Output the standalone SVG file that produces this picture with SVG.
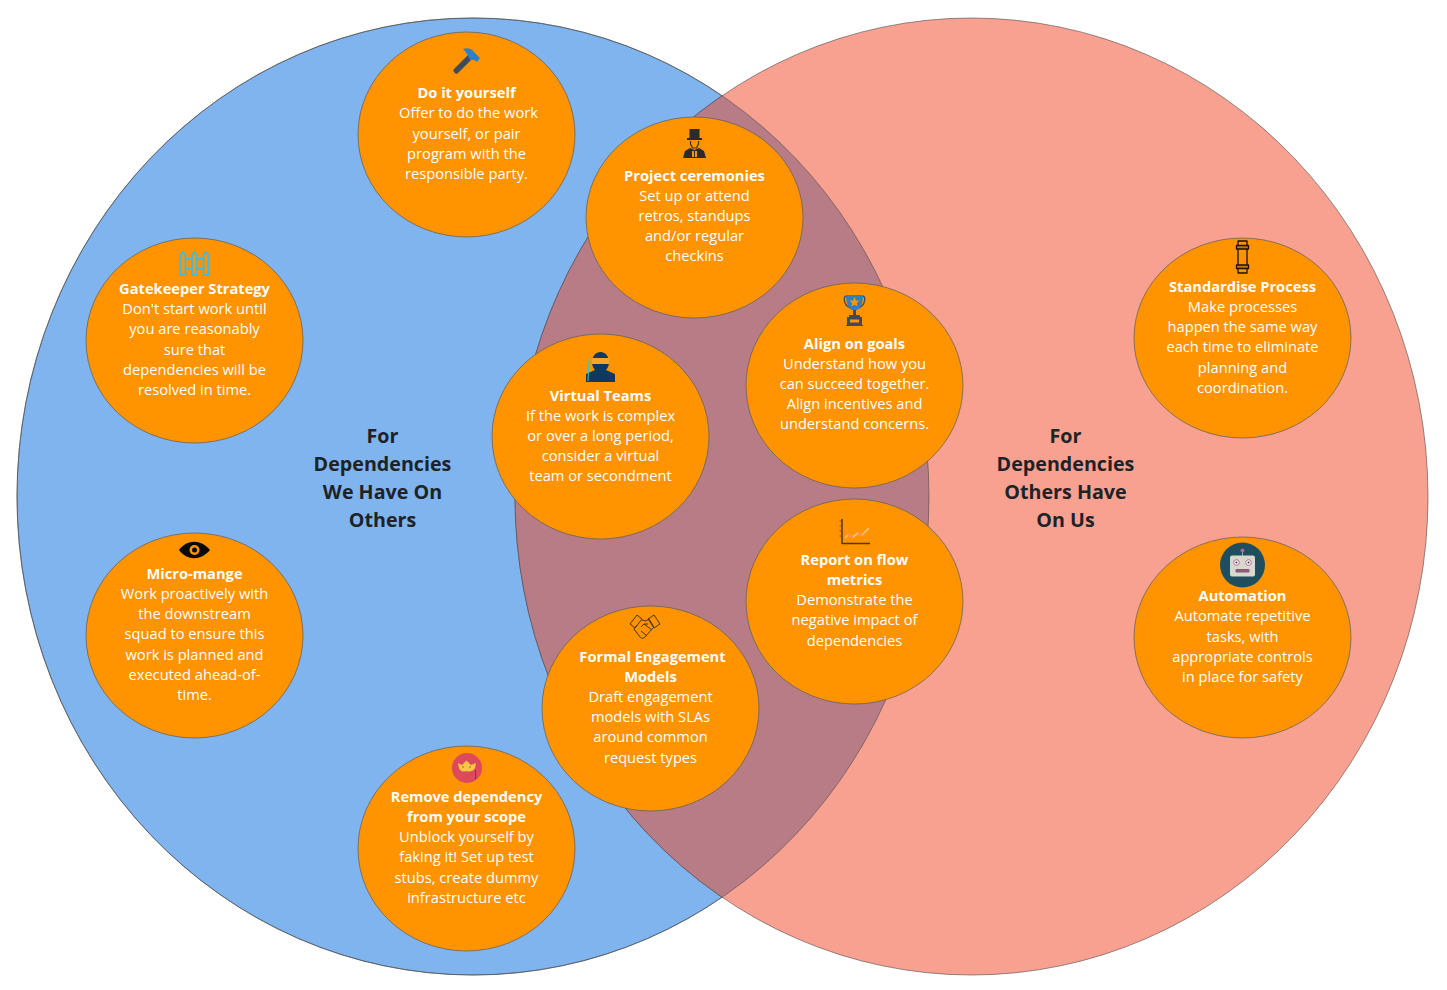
<svg xmlns="http://www.w3.org/2000/svg" width="1447" height="990" viewBox="0 0 1447 990">
<style>
text{font-family:"Open Sans","Noto Sans","Liberation Sans",sans-serif;text-anchor:middle}
.n{fill:#ff9300;stroke:#5a5a5a;stroke-width:.7}
.b{font-size:14.67px;fill:#fff}
.h{font-size:14.67px;fill:#fff;font-weight:700}
.t{font-size:19.7px;fill:#1e2328;font-weight:700}
.v{stroke:#4a4a4a;stroke-width:.6}
.i{fill:none;stroke-linejoin:round}
</style>
<defs><clipPath id="bc"><ellipse cx="473" cy="496.5" rx="456" ry="478.5"/></clipPath></defs>
<rect width="1447" height="990" fill="#fff"/>
<g id="venn">
<ellipse class="v" cx="473" cy="496.5" rx="456" ry="478.5" fill="#80b4ef"/>
<ellipse class="v" cx="971.5" cy="496.5" rx="456.5" ry="478.5" fill="#f9a190"/>
<ellipse class="v" cx="971.5" cy="496.5" rx="456.5" ry="478.5" fill="#b87c86" clip-path="url(#bc)"/>
<ellipse class="v" cx="473" cy="496.5" rx="456" ry="478.5" fill="none"/>
</g>
<g id="connectors"></g>
<g id="title-left"><text class="t" x="382.500" y="443">For</text><text class="t" x="382.500" y="471">Dependencies</text><text class="t" x="382.500" y="499">We Have On</text><text class="t" x="382.500" y="527">Others</text></g>
<g id="title-right"><text class="t" x="1065.500" y="443">For</text><text class="t" x="1065.500" y="471">Dependencies</text><text class="t" x="1065.500" y="499">Others Have</text><text class="t" x="1065.500" y="527">On Us</text></g>

<g id="do-it-yourself">
<ellipse class="n" cx="466.500" cy="134.500" rx="108.500" ry="102.500"/>
<path d="M454 69l14-14 4 4-14 14a2 2 0 0 1-3 0l-1-1a2 2 0 0 1 0-3z" fill="#3f4a5a"/>
<path d="M463 49c5-2 9 0 11 3l6 6-3 4-3-2-4 0-2-4c-1-3-3-5-5-7z" fill="#2f80c2"/>
<text class="h" x="466.500" y="98">Do it yourself</text><text class="b" x="468.500" y="118">Offer to do the work</text><text class="b" x="466.500" y="139">yourself, or pair</text><text class="b" x="466.500" y="159">program with the</text><text class="b" x="466.500" y="179">responsible party.</text>
</g>

<g id="project-ceremonies">
<ellipse class="n" cx="694.500" cy="217.500" rx="108.500" ry="100.500"/>
<path d="M689.500 129h10v9h2.500v2h-15v-2h2.500z" fill="#2b2b2b"/>
<path d="M690.500 141v3l2 4h4l2-4v-3" class="i" stroke="#3a3020" stroke-width="1.200"/>
<path d="M683 158l2-7 5-3 4.500 2 4.500-2 5 3 2 7z" fill="#2b2b2b"/>
<path d="M692 151h5v6h-5z" fill="#ff9300"/><path d="M694.500 151v6" stroke="#2b2b2b" stroke-width="1"/>
<text class="h" x="694.500" y="181">Project ceremonies</text><text class="b" x="694.500" y="201">Set up or attend</text><text class="b" x="694.500" y="221">retros, standups</text><text class="b" x="694.500" y="241">and/or regular</text><text class="b" x="694.500" y="261">checkins</text>
</g>

<g id="gatekeeper-strategy">
<ellipse class="n" cx="194.500" cy="340.500" rx="108.500" ry="102.500"/>
<g class="i" stroke="#3cbce8" stroke-width="1.800"><path d="M180.500 275v-20l2.500-3 2.500 3v20zM192 275v-20l2.500-3 2.500 3v20zM203.500 275v-20l2.500-3 2.500 3v20z"/><path d="M185.500 259h6.500M197 259h6.500M185.500 269h6.500M197 269h6.500"/></g>
<text class="h" x="194.500" y="294">Gatekeeper Strategy</text><text class="b" x="194.500" y="314">Don't start work until</text><text class="b" x="194.500" y="334">you are reasonably</text><text class="b" x="194.500" y="355">sure that</text><text class="b" x="194.500" y="375">dependencies will be</text><text class="b" x="194.500" y="395">resolved in time.</text>
</g>

<g id="micro-mange">
<ellipse class="n" cx="194.500" cy="635.500" rx="108.500" ry="102.500"/>
<path d="M179 550c8-11 22-11 31 0-9 11-23 11-31 0z" fill="#0a0a0a"/>
<circle cx="194.500" cy="550" r="5" fill="#ff9300"/><circle cx="194.500" cy="550" r="2.500" fill="#0a0a0a"/>
<text class="h" x="194.500" y="579">Micro-mange</text><text class="b" x="194.500" y="599">Work proactively with</text><text class="b" x="194.500" y="619">the downstream</text><text class="b" x="194.500" y="639">squad to ensure this</text><text class="b" x="194.500" y="660">work is planned and</text><text class="b" x="194.500" y="680">executed ahead-of-</text><text class="b" x="194.500" y="700">time.</text>
</g>

<g id="virtual-teams">
<ellipse class="n" cx="600.500" cy="436.500" rx="108.500" ry="102.500"/>
<path d="M586 382v-8l9-4c-2-2-3-5-3-8 0-6 4-10 8.500-10s8.500 4 8.500 10c0 3-1 6-3 8l9 4v8z" fill="#0e3a5f"/>
<rect x="592" y="358" width="17" height="6" fill="#f6a623"/>
<path d="M591 360h-2l-1 21" class="i" stroke="#3fc1c9" stroke-width="1"/>
<text class="h" x="600.500" y="401">Virtual Teams</text><text class="b" x="600.500" y="421">If the work is complex</text><text class="b" x="600.500" y="441">or over a long period,</text><text class="b" x="600.500" y="461">consider a virtual</text><text class="b" x="600.500" y="481">team or secondment</text>
</g>

<g id="align-on-goals">
<ellipse class="n" cx="854.500" cy="385.500" rx="108.500" ry="102.500"/>
<path d="M847 296c-3 0-3 2-2.500 5 .5 3 3 6 6.500 7M862 296c3 0 3 2 2.500 5-.5 3-3 6-6.500 7" class="i" stroke="#3f4a5a" stroke-width="1.400"/>
<path d="M846 295h17c0 7-2 13-6 15h-5c-4-2-6-8-6-15z" fill="#2f80c2"/>
<path d="M854.500 297l1.500 3.500 3.500.3-2.700 2.300.9 3.500-3.200-1.900-3.200 1.900.9-3.500-2.700-2.300 3.500-.3z" fill="#ff9300"/>
<path d="M853 310h3v5h-3zM849 315h11v2h-11zM847 317h15v8h-15zM846 325h17v1h-17z" fill="#3f4a5a"/>
<rect x="850" y="319.500" width="9" height="3" fill="#ff9300"/>
<text class="h" x="854.500" y="349">Align on goals</text><text class="b" x="854.500" y="369">Understand how you</text><text class="b" x="854.500" y="389">can succeed together.</text><text class="b" x="854.500" y="409">Align incentives and</text><text class="b" x="854.500" y="429">understand concerns.</text>
</g>

<g id="report-on-flow-metrics">
<ellipse class="n" cx="854.500" cy="601.500" rx="108.500" ry="102.500"/>
<path d="M842 519v24.500h28" class="i" stroke="#4a3a20" stroke-width="1.500"/>
<path d="M839.500 521h2M839.500 526h2M839.500 531h2M839.500 536h2" stroke="#4a3a20" stroke-width=".7" fill="none"/>
<path d="M845 538l3-3 5 2 5-4 4 2 7-7" class="i" stroke="#ffc27a" stroke-width="1.700"/>
<path d="M848 535l5 2M858 533l4 2" class="i" stroke="#ee7f6a" stroke-width="1.300"/>
<text class="h" x="854.500" y="565">Report on flow</text><text class="h" x="854.500" y="585">metrics</text><text class="b" x="854.500" y="605">Demonstrate the</text><text class="b" x="854.500" y="625">negative impact of</text><text class="b" x="854.500" y="646">dependencies</text>
</g>

<g id="formal-engagement-models">
<ellipse class="n" cx="650.500" cy="708.500" rx="108.500" ry="102.500"/>
<g class="i" stroke="#4a3214" stroke-width="1"><path d="M630 624l7-9 5 4-7 9zM648 619l6-4 6 9-6 4z"/><path d="M642 620l4 1 3-2 5 8-2 2-7 8c-2 2-4 1-5 0l-6-8 3-4"/><path d="M641 627l3-3 4 0M644 624l8 6M641 631l6 5"/></g>
<text class="h" x="652.500" y="662">Formal Engagement</text><text class="h" x="650.500" y="682">Models</text><text class="b" x="650.500" y="702">Draft engagement</text><text class="b" x="650.500" y="722">models with SLAs</text><text class="b" x="650.500" y="742">around common</text><text class="b" x="650.500" y="763">request types</text>
</g>

<g id="remove-dependency">
<ellipse class="n" cx="466.500" cy="848.500" rx="108.500" ry="102.500"/>
<circle cx="467" cy="768" r="15" fill="#dd4a5c"/>
<path d="M458 763l4 2 4.500-4.500 4.500 4.500 5-2-1 5c-2 4-6 4-8.500 3-3 1-6 1-7.500-3z" fill="#f3c845"/>
<path d="M462 767h2M469 767h2" stroke="#dd4a5c" stroke-width="1.200" fill="none"/>
<path d="M475.500 770v9" stroke="#8a3540" stroke-width="1" fill="none"/>
<text class="h" x="466.500" y="802">Remove dependency</text><text class="h" x="466.500" y="822">from your scope</text><text class="b" x="466.500" y="842">Unblock yourself by</text><text class="b" x="466.500" y="862">faking it! Set up test</text><text class="b" x="466.500" y="883">stubs, create dummy</text><text class="b" x="466.500" y="903">infrastructure etc</text>
</g>

<g id="standardise-process">
<ellipse class="n" cx="1242.500" cy="338" rx="108.500" ry="100"/>
<g class="i" stroke="#1a1208" stroke-width="1.300"><path d="M1238 241h9v32h-9z"/><path d="M1236.500 245.500h12v3.500h-12zM1236.500 265h12v3.500h-12z" fill="#b97a14"/></g>
<text class="h" x="1242.500" y="292">Standardise Process</text><text class="b" x="1242.500" y="312">Make processes</text><text class="b" x="1242.500" y="332">happen the same way</text><text class="b" x="1242.500" y="352">each time to eliminate</text><text class="b" x="1242.500" y="373">planning and</text><text class="b" x="1242.500" y="393">coordination.</text>
</g>

<g id="automation">
<ellipse class="n" cx="1242.500" cy="637.500" rx="108.500" ry="100.500"/>
<circle cx="1242.500" cy="565" r="22.500" fill="#1f4e5f"/>
<path d="M1242.500 556v-5" stroke="#8aa" stroke-width="1" fill="none"/><circle cx="1242.500" cy="550.500" r="2" fill="#b0689a"/>
<rect x="1230" y="555.500" width="25" height="21" rx="2" fill="#d8d8cc"/>
<circle cx="1236.500" cy="562.500" r="2.800" fill="#fff" stroke="#b0689a"/><circle cx="1248.500" cy="562.500" r="2.800" fill="#fff" stroke="#b0689a"/>
<circle cx="1236.500" cy="562.500" r="1" fill="#333"/><circle cx="1248.500" cy="562.500" r="1" fill="#333"/>
<rect x="1235.500" y="569" width="14" height="3.500" rx="1" fill="#8a5a7a"/>
<text class="h" x="1242.500" y="601">Automation</text><text class="b" x="1242.500" y="621">Automate repetitive</text><text class="b" x="1242.500" y="642">tasks, with</text><text class="b" x="1242.500" y="662">appropriate controls</text><text class="b" x="1242.500" y="682">in place for safety</text>
</g>
</svg>
